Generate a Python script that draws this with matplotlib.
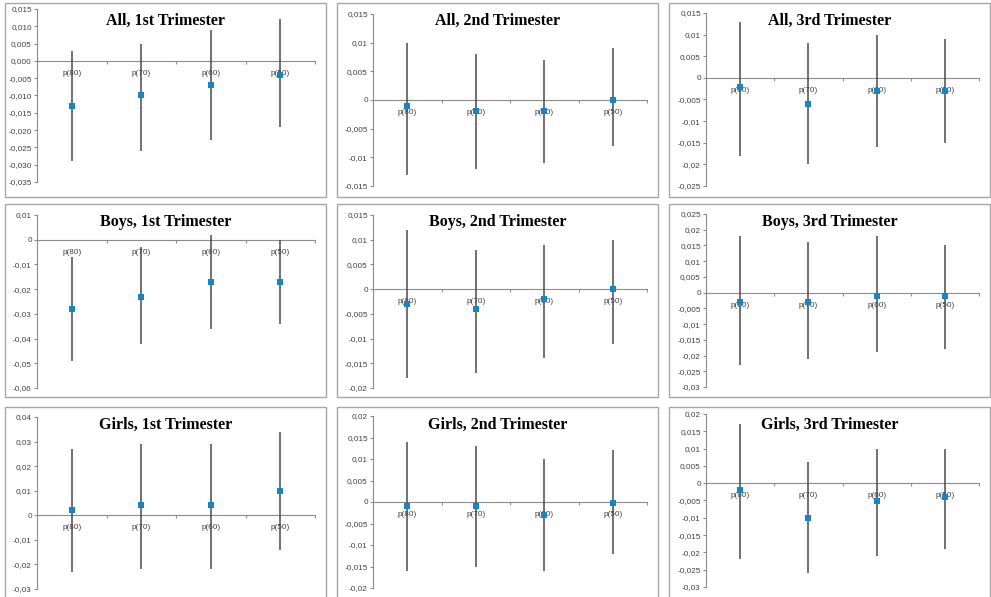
import matplotlib
matplotlib.use("Agg")
import matplotlib.pyplot as plt
from matplotlib.patches import Rectangle
from matplotlib.ticker import FixedLocator, FuncFormatter
import numpy as np

W, H = 991, 597

cats = ['p(80)', 'p(70)', 'p(60)', 'p(50)']

titles = ['All, 1st Trimester', 'All, 2nd Trimester', 'All, 3rd Trimester',
          'Boys, 1st Trimester', 'Boys, 2nd Trimester', 'Boys, 3rd Trimester',
          'Girls, 1st Trimester', 'Girls, 2nd Trimester', 'Girls, 3rd Trimester']

# point estimates and CI bounds for each panel
est = [[-0.013, -0.010, -0.007, -0.004],
       [-0.001, -0.002, -0.002, 0.000],
       [-0.002, -0.006, -0.003, -0.003],
       [-0.028, -0.023, -0.017, -0.017],
       [-0.003, -0.004, -0.002, 0.000],
       [-0.003, -0.003, -0.001, -0.001],
       [0.002, 0.004, 0.004, 0.010],
       [-0.001, -0.001, -0.003, -0.0002],
       [-0.002, -0.010, -0.005, -0.004]]
upper = [[0.003, 0.005, 0.009, 0.012],
         [0.010, 0.008, 0.007, 0.009],
         [0.013, 0.008, 0.010, 0.009],
         [-0.007, -0.003, 0.002, 0.000],
         [0.012, 0.008, 0.009, 0.010],
         [0.018, 0.016, 0.018, 0.015],
         [0.027, 0.029, 0.029, 0.034],
         [0.014, 0.013, 0.010, 0.012],
         [0.017, 0.006, 0.010, 0.010]]
lower = [[-0.029, -0.026, -0.023, -0.019],
         [-0.013, -0.012, -0.011, -0.008],
         [-0.018, -0.020, -0.016, -0.015],
         [-0.049, -0.042, -0.036, -0.034],
         [-0.018, -0.017, -0.014, -0.011],
         [-0.023, -0.021, -0.019, -0.018],
         [-0.023, -0.022, -0.022, -0.014],
         [-0.016, -0.015, -0.016, -0.012],
         [-0.022, -0.026, -0.021, -0.019]]

# axis ranges (max, min, step)
ymax = [0.015, 0.015, 0.015, 0.01, 0.015, 0.025, 0.04, 0.02, 0.02]
ymin = [-0.035, -0.015, -0.025, -0.06, -0.02, -0.03, -0.03, -0.02, -0.03]
ystep = [0.005, 0.005, 0.005, 0.01, 0.005, 0.005, 0.01, 0.005, 0.005]

# layout in pixels
box_x = [(5, 326), (337, 658), (669, 990)]
box_y = [(3, 197), (204, 397), (407, 602)]
ax_x = [(37, 315), (373, 647), (706, 979)]
ax_top = [9, 14, 13, 215, 215, 214, 417, 416, 414]
ax_bot = [182, 186, 186, 388, 388, 387, 589, 588, 587]


def fmt_general(v, pos):
    if abs(v) < 1e-12:
        return '0'
    s = ('%.3f' % v).rstrip('0')
    return s.replace('.', ',')


def fmt_fixed(v, pos):
    if abs(v) < 1e-12:
        v = 0.0
    return ('%.3f' % v).replace('.', ',')


fig = plt.figure(figsize=(W / 100, H / 100), dpi=100)
fig.patch.set_facecolor('white')

for i in range(9):
    r, c = divmod(i, 3)
    bx0, bx1 = box_x[c]
    by0, by1 = box_y[r]
    fig.patches.append(Rectangle((bx0 / W, 1 - by1 / H), (bx1 - bx0) / W, (by1 - by0) / H,
                                 transform=fig.transFigure, fill=False,
                                 edgecolor='#a6a6a6', linewidth=1.0))

    x0, x1 = ax_x[c]
    top, bot = ax_top[i], ax_bot[i]
    ax = fig.add_axes([x0 / W, 1 - bot / H, (x1 - x0) / W, (bot - top) / H])
    ax.set_facecolor('none')

    xs = np.arange(4) + 0.5
    e = np.array(est[i])
    lo = e - np.array(lower[i])
    hi = np.array(upper[i]) - e
    ax.errorbar(xs, e, yerr=[lo, hi], fmt='none', ecolor='#4a4a4a',
                elinewidth=1.1, capsize=0, zorder=2)
    ax.plot(xs, e, 's', color='#1784c7', markersize=4.6, markeredgewidth=0, zorder=3)

    ax.set_xlim(0, 4)
    ax.set_ylim(ymin[i], ymax[i])

    for s in ['top', 'right']:
        ax.spines[s].set_visible(False)
    ax.spines['left'].set_color('#8c8c8c')
    ax.spines['left'].set_linewidth(0.8)
    ax.spines['bottom'].set_position(('data', 0))
    ax.spines['bottom'].set_color('#8c8c8c')
    ax.spines['bottom'].set_linewidth(0.8)
    ax.spines['bottom'].set_zorder(1)

    ticks = np.arange(ymin[i], ymax[i] + ystep[i] / 2, ystep[i])
    ax.yaxis.set_major_locator(FixedLocator(ticks))
    ax.yaxis.set_major_formatter(FuncFormatter(fmt_fixed if i == 0 else fmt_general))
    ax.tick_params(axis='y', direction='out', length=2.2, width=0.8, color='#8c8c8c',
                   pad=1.5, labelsize=5.9, labelcolor='#404040')

    ax.set_xticks([0, 1, 2, 3, 4])
    ax.set_xticklabels([])
    ax.set_xticks(xs, cats, minor=True)
    ax.tick_params(axis='x', which='major', direction='out', length=2.2, width=0.8,
                   color='#8c8c8c')
    ax.tick_params(axis='x', which='minor', length=0, pad=6.5, labelsize=5.9,
                   labelcolor='#404040')
    for lab in ax.get_yticklabels() + ax.get_xticklabels(minor=True):
        lab.set_fontfamily('Liberation Sans')

    fig.text((bx0 + bx1) / 2 / W, 1 - (by0 + 18) / H, titles[i], ha='center', va='center',
             fontsize=11.5, fontweight='bold', family='Liberation Serif', color='black')

fig.savefig('out.png', dpi=100)
